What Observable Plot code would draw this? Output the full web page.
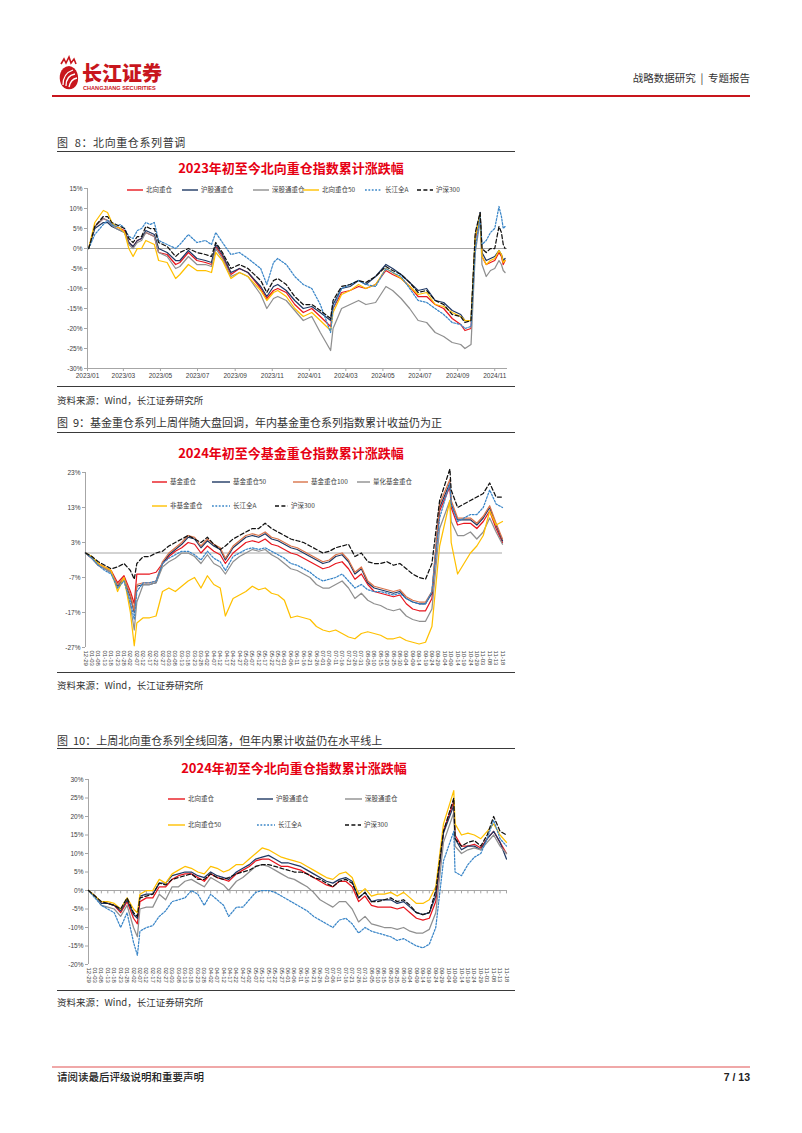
<!DOCTYPE html>
<html><head><meta charset="utf-8">
<script src="https://cdn.jsdelivr.net/npm/d3@7"></script>
<script src="https://cdn.jsdelivr.net/npm/@observablehq/plot@0.6"></script>
<style>
body{margin:0;background:#fff;}
#page{position:relative;width:802px;height:1133px;overflow:hidden;background:#fff;font-family:"Noto Sans CJK SC","Noto Sans",sans-serif;color:#333;}
.abs{position:absolute;white-space:pre;line-height:1.2;}
.hr{position:absolute;}
.chart{position:absolute;}
.chart svg{overflow:visible;}
</style></head><body><div id="page"></div>
<script>
// ---------------- DATA ----------------
// Chart 1: 2023年初至今北向重仓指数累计涨跌幅
const c1Dates = ["2023-01-03","2023-01-13","2023-01-27","2023-02-03","2023-02-10","2023-02-17","2023-02-24","2023-03-03","2023-03-10","2023-03-17","2023-03-24","2023-03-31","2023-04-07","2023-04-14","2023-04-21","2023-04-28","2023-05-12","2023-05-26","2023-06-02","2023-06-16","2023-06-30","2023-07-14","2023-07-24","2023-07-31","2023-08-11","2023-08-25","2023-09-08","2023-09-22","2023-10-13","2023-10-23","2023-11-03","2023-11-10","2023-11-24","2023-12-08","2023-12-22","2024-01-05","2024-01-19","2024-02-05","2024-02-09","2024-02-23","2024-03-08","2024-03-22","2024-04-03","2024-04-19","2024-05-06","2024-05-17","2024-05-31","2024-06-14","2024-06-28","2024-07-12","2024-07-26","2024-08-09","2024-08-23","2024-09-06","2024-09-13","2024-09-23","2024-09-30","2024-10-08","2024-10-11","2024-10-18","2024-10-25","2024-11-01","2024-11-08","2024-11-12","2024-11-15","2024-11-18"];
const c1North = [0,5.5,7.5,7,6,5.5,5,4.5,1.5,0.5,2,2.5,4,3.5,3,-1,-1.5,-4,-3.5,-1,-3,-3.5,-4,0.5,-2,-6.5,-5,-6,-10,-12.5,-10.5,-10,-11,-14,-16,-15,-17,-19.5,-15,-11,-10.5,-9.5,-10,-9,-5.5,-6.5,-7.5,-9.5,-12,-12,-14,-15,-17.5,-19,-20.5,-20,2,8.5,-2,-4,-3.5,-3,-1,-2,-4,-3];
const c1SH = [0,5,6.5,6.5,5.5,5,4.5,4,1.5,0.5,2,2.5,4.5,4,3.5,0,-1,-3,-3,-0.5,-2.5,-3,-3.5,1,-1.5,-6,-5,-6,-9.5,-12,-9.5,-9,-10.5,-13,-15,-14.5,-16,-18,-14,-10,-9.5,-8,-9,-7,-4,-5,-6.5,-8.5,-10.5,-10,-13,-13.5,-15.5,-16.5,-18,-18,3,9,-1,-3,-2.5,-2,-0.5,-1.5,-3,-2.5];
const c1SZ = [0,5.5,7.5,7,6,5,4.5,4,1,0,1.5,2,4,3.5,3,-1,-2,-5,-4.5,-2,-4,-4,-4.5,0,-2.5,-7,-6,-7,-11.5,-15,-12.5,-12,-13,-15.5,-18,-17,-21,-25.5,-20,-15,-14,-13,-14,-13.5,-9.5,-10.5,-12.5,-15,-18,-18.5,-21,-22,-23.5,-24,-25,-24,-1,7,-4,-7,-5.5,-5,-3,-4,-5.5,-6];
const c1N50 = [0,6.5,9.5,9,6.5,5.5,5,4,0,-2,0,0,2,1.5,1,-3,-3.5,-7.5,-6.5,-4,-5.5,-5.5,-6,-1,-3,-7.5,-6,-7,-10.5,-13,-11,-10.5,-12,-15,-17,-16,-18,-20.5,-16,-11.5,-10.5,-9,-10,-9,-5,-6,-7.5,-9.5,-11.5,-11,-14,-14.5,-16,-17,-18,-18,3,8.5,-2,-4,-3,-2.5,-0.5,-1.5,-3.5,-3];
const c1AllA = [0,3.5,6,7,6,5.5,6,5,3,2.5,4.5,5,6.5,6,6.5,2,1,0,1,3.5,1.5,2,1,4,1.5,-1.5,-1,-2.5,-5,-9,-3.5,-2.5,-4,-7,-9,-10,-14,-21,-15,-10,-9,-8,-9,-9.5,-5,-6,-7,-10,-13,-13.5,-15,-16.5,-18.5,-19,-20,-19.5,0,8,1,2,4,5,10.5,8,5,5.5];
const c1HS300 = [0,5.5,8,8,6.5,6,5.5,5,2.5,1.5,3,3,5.5,5,5,1.5,0.5,-2,-1,0,-1,-1.5,-2,1.5,-1,-5,-4,-5,-8,-11,-8,-7.5,-9,-12,-14,-14,-15.5,-17.5,-13,-9.5,-9,-8,-8.5,-7,-4.5,-5.5,-6.5,-8.5,-11,-10.5,-13,-14,-16.5,-17,-18.5,-18,4,9,0,-1,0,0,5.5,4,1,0];
const c1XTicks = ["2023/01","2023/03","2023/05","2023/07","2023/09","2023/11","2024/01","2024/03","2024/05","2024/07","2024/09","2024/11"];
const c1YTicks = [15,10,5,0,-5,-10,-15,-20,-25,-30];
const c1Names = ["北向重仓","沪股通重仓","深股通重仓","北向重仓50","长江全A","沪深300"];

// Chart 2: 2024年初至今基金重仓指数累计涨跌幅
const c2Dates = ["12-29","01-03","01-08","01-13","01-18","01-23","01-28","02-02","02-05","02-07","02-12","02-17","02-22","02-27","03-03","03-08","03-13","03-18","03-23","03-28","04-02","04-07","04-12","04-16","04-22","04-27","05-02","05-07","05-12","05-17","05-22","05-27","06-01","06-06","06-11","06-16","06-21","06-26","07-01","07-06","07-11","07-16","07-21","07-26","07-31","08-05","08-10","08-15","08-20","08-25","08-30","09-04","09-09","09-14","09-19","09-24","09-30","10-08","10-09","10-14","10-19","10-24","10-29","11-03","11-08","11-13","11-18"];
const c2Fund = [0,-1.5,-3,-4,-5,-8.5,-6.5,-11,-14.5,-6,-6,-6,-5.5,-3,-1,0.5,1.5,3,2.5,0,2,0.5,-0.5,-3,0,1.5,3,3.5,3,4,2.5,2,1,0,-0.5,-1.5,-2.5,-3.5,-4.5,-4,-3,-2.5,-4.5,-7.5,-6,-9,-11,-11.5,-12,-12.5,-12,-14.5,-16,-16.5,-16.5,-13,12,19,13,8,8.5,8.5,7,9,12,7,3];
const c2Fund50 = [0,-1.5,-3.5,-4.5,-5.5,-9.5,-7.5,-12.5,-17,-9.5,-9,-9,-8.5,-3,-0.5,1,2.5,4.5,4,1.5,3.5,2,1,-2,1.5,3,4.5,5,4.5,5.5,4,3.5,2.5,1.5,1,0,-1,-2,-3,-2.5,-1,-0.5,-2.5,-6,-4.5,-8.5,-10,-10.5,-11,-11.5,-11,-13,-14,-14.5,-14.5,-11.5,13,20,14,9.5,9.5,9.5,8,10,13,8,3.5];
const c2Fund100 = [0,-1.5,-3.5,-4.5,-5.5,-9,-7,-12,-16.5,-9,-8.5,-8.5,-8,-2.5,0,1.5,3,5,4.5,2,4,2.5,1.5,-1.5,2,3.5,5,5.5,5,6,4.5,4,3,2,1.5,0.5,-0.5,-1.5,-2.5,-2,-0.5,0,-2,-5.5,-4,-8,-9.5,-10,-10.5,-11,-10.5,-12.5,-13.5,-14,-14,-11,14,21,15,10,10,10,8.5,10.5,13.5,8.5,4];
const c2Quant = [0,-1.5,-3.5,-4.5,-5.5,-10,-7.5,-15,-22,-14,-9,-9,-8.5,-4,-2.5,-1.5,0,0,-1,-3,-0.5,-3,-4,-6,-2.5,-1,0,1,0.5,1,-0.5,-1.5,-3,-4.5,-5,-6,-7,-9,-10,-10,-9,-8,-10,-13,-11.5,-13.5,-14.5,-15,-16,-16.5,-16,-18,-19,-19.5,-19.5,-16,7,15,9,5,5,6,4,6,10,6,2.5];
const c2NonFund = [0,-1,-3,-4,-5,-11,-7,-17,-26.5,-20,-18.5,-18.5,-18,-11,-10,-11,-9.5,-8,-7,-10,-6.5,-9,-10,-18,-13,-12,-11,-9.5,-10.5,-10,-11.5,-12,-13.5,-18.5,-18,-18.5,-19,-21,-22,-22.5,-22,-23,-24,-24.5,-23,-22.5,-23,-23.5,-24.5,-24.5,-24,-25,-25.5,-26,-25.5,-21,2,15,3,-6,-3,0,2,5,12,8,9];
const c2AllA = [0,-1.5,-3.5,-5,-6,-10,-8,-14,-19,-11,-8.5,-8.5,-8,-3,-1.5,-0.5,0.5,0.5,-0.5,-2,0.5,-1.5,-2.5,-5,-1,0,1,1.5,1,1.5,0.5,-0.5,-1.5,-3,-3.5,-4.5,-5.5,-7,-8,-7.5,-7,-6,-8,-10,-9,-10.5,-11,-11,-11.5,-12,-11.5,-13,-14,-14.5,-14.5,-11,10,20,14,9,10,11,11,13,18,14,13];
const c2HS300 = [0,-1,-2.5,-3.5,-4.5,-4,-3,-5,-7.5,-3,-1,-1,0,0.5,2,3,4,5,4,3,4.5,2.5,1,2,4,5,6,7,7,8.5,7,6,5,4,3.5,3,2,1,0,0.5,1.5,2,2.5,-1,0,-2.5,-3,-3,-2.5,-3.5,-3,-4.5,-6,-7,-7.5,-3,15,24,18,13,14,15,16,17,20,16,16];
const c2YTicks = [23,13,3,-7,-17,-27];
const c2Names = ["基金重仓","基金重仓50","基金重仓100","量化基金重仓","非基金重仓","长江全A","沪深300"];

// Chart 3: 2024年初至今北向重仓指数累计涨跌幅
const c3Dates = c2Dates.slice();
const c3North = [0,-1.5,-3.5,-3.5,-4,-6,-3,-7.5,-9,-3,-2,-2,1,1,3,4,4.5,4.5,3.5,2.5,4.5,3.5,3,2.5,4.5,5.5,6.5,8,8.5,8.5,7.5,6.5,6.5,6,5.5,4.5,3.5,2.5,1.5,1,2.5,2.5,1,-3,-1.5,-4,-4.5,-4.5,-4.5,-5,-4.5,-6,-7.5,-8,-7.5,-3,16,24,15,12,12,12.5,11.5,14,16,13,10];
const c3SH = [0,-1.5,-3.5,-3.5,-4,-5.5,-2.5,-6.5,-7.5,-1.5,-1,-1,2,2,4,4.5,5,5,4,3.5,5,4,3.5,3,5,6,7,8.5,9,9.5,8.5,7.5,7.5,7,6.5,5.5,4.5,3.5,2.5,2,3,3.5,2.5,-2,-0.5,-3,-2.5,-2.5,-2.5,-3.5,-3,-4.5,-6,-6.5,-6,-1.5,15.5,23,14,11,12,12,11,14,16,13,8.5];
const c3SZ = [0,-1.5,-4,-4.5,-5,-7,-4,-10,-12.5,-5,-4.5,-4.5,-1,-2.5,1,1,2.5,3,2,1,3.5,2.5,1.5,0,2.5,3.5,5,6.5,7,6.5,5.5,4.5,3.5,3,2,1,-0.5,-2.5,-3.5,-4.5,-3,-3,-5,-8.5,-7,-9,-9.5,-10,-10,-10.5,-10,-11,-11.5,-11.5,-10.5,-6,13,21,12,10,11,11.5,11,13,15,12,10];
const c3N50 = [0,-1.5,-3,-3,-3.5,-5,-2,-5,-6,-1,0,0,3,2,4.5,5.5,6.5,6,5,4.5,6.5,6,5,5.5,7,7,8.5,10,11.5,11,10,9,8.5,8,7.5,6.5,5.5,4.5,3.5,3,4.5,5,3.5,-1,0.5,-1.5,-1,-1,-0.5,-1.5,-0.5,-2,-3.5,-3.5,-2.5,1,18,27,18,15,15.5,15,14,16,18,15,13];
const c3AllA = [0,-2,-4,-5,-6,-10,-6,-14,-17.5,-11,-10,-9.5,-7,-5.5,-3,-2.5,-2,0,-1,-4,-1,-2.5,-4,-7,-4.5,-4.5,-2.5,-0.5,0,0,-0.5,-1.5,-2.5,-3.5,-4.5,-5.5,-7,-8,-9,-10,-8,-7.5,-9,-11.5,-10,-11,-11.5,-12,-12.5,-13.5,-13,-14,-15,-15.5,-14.5,-10,8,16,5,4,7,9,10,14,19,14,12];
const c3HS300 = [0,-1.5,-3,-3.5,-4,-5,-2,-6,-7,-2,-1.5,-1,2,1.5,3,3.5,4,4.5,3,3,4.5,3.5,3,3.5,4.5,5,5.5,6.5,7,7,6.5,6,5.5,5,5,4.5,3.5,3,2,1,2.5,3,2,-2,-0.5,-3,-3,-2.5,-2,-3,-2.5,-4,-6,-6.5,-6,0,16,25,14,12,13,13.5,12,15,20,16,15];
const c3YTicks = [30,25,20,15,10,5,0,-5,-10,-15,-20];
const c3Names = ["北向重仓","沪股通重仓","深股通重仓","北向重仓50","长江全A","沪深300"];

// x tick labels shared by chart 2 and 3
const mdTicks = ["12-29","01-03","01-08","01-13","01-18","01-23","01-28","02-02","02-07","02-12","02-17","02-22","02-27","03-03","03-08","03-13","03-18","03-23","03-28","04-02","04-07","04-12","04-17","04-22","04-27","05-02","05-07","05-12","05-17","05-22","05-27","06-01","06-06","06-11","06-16","06-21","06-26","07-01","07-06","07-11","07-16","07-21","07-26","07-31","08-05","08-10","08-15","08-20","08-25","08-30","09-04","09-09","09-14","09-19","09-24","09-29","10-04","10-09","10-14","10-19","10-24","10-29","11-03","11-08","11-13","11-18"];

// ---------------- STYLES ----------------
const NUM = "'Liberation Sans','Noto Sans',Arial,sans-serif";
const CJK = "'Noto Sans CJK SC','Noto Sans',sans-serif";
const RED = "#E8161E", NAVY = "#1F3864", GRAY = "#8F8F8F", GOLD = "#FFC000", BLUE = "#3A86C8", BLACK = "#111111", SALMON = "#D9734A";
const sty = {
  "北向重仓": {stroke: RED}, "沪股通重仓": {stroke: NAVY}, "深股通重仓": {stroke: GRAY}, "北向重仓50": {stroke: GOLD},
  "长江全A": {stroke: BLUE, dash: "1.8,1.6"}, "沪深300": {stroke: BLACK, dash: "4,2.4"},
  "基金重仓": {stroke: RED}, "基金重仓50": {stroke: NAVY}, "基金重仓100": {stroke: SALMON}, "量化基金重仓": {stroke: GRAY}, "非基金重仓": {stroke: GOLD}
};

const page = document.getElementById("page");
function txt(s, x, yc, size, o = {}) {
  const el = document.createElement("div");
  el.className = "abs";
  el.textContent = s;
  el.style.fontSize = size + "px";
  el.style.top = (yc - size * 0.62) + "px";
  if (o.right) el.style.right = (802 - x) + "px"; else if (o.center) { el.style.left = x + "px"; el.style.transform = "translateX(-50%)"; } else el.style.left = x + "px";
  el.style.color = o.color || "#333";
  el.style.fontFamily = o.font || CJK;
  if (o.weight) el.style.fontWeight = o.weight;
  if (o.ls) el.style.letterSpacing = o.ls + "px";
  page.appendChild(el);
  return el;
}
function hr(x1, x2, y, h, color) {
  const el = document.createElement("div");
  el.className = "hr";
  Object.assign(el.style, {left: x1 + "px", width: (x2 - x1) + "px", top: y + "px", height: h + "px", background: color});
  page.appendChild(el);
}
function legend(items) {
  for (const [name, x, y, len] of items) {
    const s = sty[name];
    const svg = document.createElementNS("http://www.w3.org/2000/svg", "svg");
    svg.setAttribute("width", len); svg.setAttribute("height", 4);
    svg.style.position = "absolute"; svg.style.left = x + "px"; svg.style.top = (y - 2) + "px";
    const ln = document.createElementNS("http://www.w3.org/2000/svg", "line");
    ln.setAttribute("x1", 0); ln.setAttribute("x2", len); ln.setAttribute("y1", 2); ln.setAttribute("y2", 2);
    ln.setAttribute("stroke", s.stroke); ln.setAttribute("stroke-width", 1.4);
    if (s.dash) ln.setAttribute("stroke-dasharray", s.dash);
    svg.appendChild(ln); page.appendChild(svg);
    txt(name, x + len + 3, y, 6.5, {color: "#404040"});
  }
}

// ---------------- HEADER ----------------
(function header() {
  const svg = `<svg width="26" height="38" viewBox="0 0 26 38" style="position:absolute;left:56px;top:55px">
  <path d="M5 9 L8 4 L10 8 L13 2 L15 8 L18 4 L20 9" fill="none" stroke="#C8161D" stroke-width="1.6"/>
  <path d="M13 11 C4 12 2 22 5 29 C8 36 18 36 21 29 C24 22 21 12 13 11 Z" fill="#C8161D"/>
  <path d="M7 30 C7 22 11 17 17 15" fill="none" stroke="#fff" stroke-width="1.3"/>
  <path d="M10 31 C10 24 13 20 19 19" fill="none" stroke="#fff" stroke-width="1.3"/>
  <path d="M13 32 C14 27 16 24 21 23" fill="none" stroke="#fff" stroke-width="1.3"/></svg>`;
  page.insertAdjacentHTML("beforeend", svg);
  txt("长江证券", 82, 73, 20, {color: "#C8161D", weight: 900, font: "'Noto Sans CJK SC',serif"});
  txt("CHANGJIANG SECURITIES", 83, 88, 5.6, {color: "#C8161D", weight: 700, font: NUM});
  txt("战略数据研究  |  专题报告", 750, 79, 10.5, {right: true, color: "#333"});
  hr(52, 750, 95, 2, "#C8161D");
})();

// ---------------- FRAMES / TEXTS ----------------
txt("图  8：北向重仓系列普调", 57, 143, 11, {ls: 0.6});
hr(57, 515, 151, 1.2, "#3a3a3a");
txt("2023年初至今北向重仓指数累计涨跌幅", 291, 168, 13, {center: true, color: "#E60012", weight: 700});
hr(57, 515, 386, 1.2, "#3a3a3a");
txt("资料来源：Wind，长江证券研究所", 57, 401, 9.5);

txt("图  9：基金重仓系列上周伴随大盘回调，年内基金重仓系列指数累计收益仍为正", 57, 423, 11);
hr(57, 515, 432, 1.2, "#3a3a3a");
txt("2024年初至今基金重仓指数累计涨跌幅", 291, 453, 13, {center: true, color: "#E60012", weight: 700});
hr(57, 515, 672, 1.2, "#3a3a3a");
txt("资料来源：Wind，长江证券研究所", 57, 686, 9.5);

txt("图  10：上周北向重仓系列全线回落，但年内累计收益仍在水平线上", 57, 741, 11);
hr(57, 515, 748, 1.2, "#3a3a3a");
txt("2024年初至今北向重仓指数累计涨跌幅", 294, 768, 13, {center: true, color: "#E60012", weight: 700});
hr(57, 515, 990, 1.2, "#3a3a3a");
txt("资料来源：Wind，长江证券研究所", 57, 1003, 9.5);

hr(52, 750, 1066, 1.5, "#F0A8A8");
txt("请阅读最后评级说明和重要声明", 57, 1078, 10.5, {color: "#222", weight: 500});
txt("7 / 13", 750, 1078, 10.5, {right: true, color: "#222", weight: 700, font: NUM});

// ---------------- CHART HELPERS ----------------
const utc = s => { const [y, m, d] = s.split("-").map(Number); return new Date(Date.UTC(y, m - 1, d)); };
const md = s => { const [m, d] = s.split("-").map(Number); return new Date(Date.UTC(m === 12 ? 2023 : 2024, m - 1, d)); };
function lineMarks(dates, names, arrays) {
  return names.map((name, k) => {
    const s = sty[name];
    const data = dates.map((d, i) => ({date: d, v: arrays[k][i]}));
    return Plot.line(data, {x: "date", y: "v", stroke: s.stroke, strokeWidth: 1.25, strokeDasharray: s.dash, strokeLinejoin: "round", curve: "linear"});
  });
}
function mount(plot, left, top) {
  const div = document.createElement("div");
  div.className = "chart"; div.style.left = left + "px"; div.style.top = top + "px";
  div.appendChild(plot); page.appendChild(div);
}
const baseStyle = {fontFamily: NUM, fontSize: "6.5px", color: "#404040", background: "transparent", overflow: "visible"};
const AX = "#A6A6A6";

// ---------------- CHART 1 ----------------
{
  const d1 = c1Dates.map(utc);
  const x0 = utc("2023-01-01"), x1 = utc("2024-11-22");
  const tickDates = c1XTicks.map(s => { const [y, m] = s.split("/").map(Number); return new Date(Date.UTC(y, m - 1, 1)); });
  const lab = new Map(tickDates.map((d, i) => [+d, c1XTicks[i]]));
  const p = Plot.plot({
    width: 460, height: 210, marginTop: 8, marginBottom: 22, marginLeft: 32, marginRight: 8,
    style: baseStyle,
    x: {type: "utc", domain: [x0, x1], label: null},
    y: {domain: [-30, 15], label: null},
    marks: [
      Plot.ruleY([0], {stroke: AX, strokeWidth: 1}),
      Plot.ruleY([-30], {stroke: AX, strokeWidth: 1}),
      Plot.ruleX([x0], {stroke: AX, strokeWidth: 1}),
      Plot.axisY({ticks: c1YTicks, tickFormat: d => d + "%", tickSize: 3, tickPadding: 2, stroke: AX, fill: "#404040", label: null}),
      Plot.axisX({ticks: tickDates, tickFormat: d => lab.get(+d), tickSize: 3, tickPadding: 2, stroke: AX, fill: "#404040", label: null}),
      ...lineMarks(d1, c1Names, [c1North, c1SH, c1SZ, c1N50, c1AllA, c1HS300])
    ]
  });
  mount(p, 55, 180);
  legend([["北向重仓", 127, 190, 16], ["沪股通重仓", 182, 190, 16], ["深股通重仓", 253, 190, 16], ["北向重仓50", 303, 190, 16], ["长江全A", 365, 190, 17], ["沪深300", 417, 190, 16]]);
}

// ---------------- CHART 2 & 3 ----------------
function mdChart({height, mt, mb, ml, mr, ydom, yticks, dates, names, arrays, zeroTicks}) {
  const tickDates = mdTicks.map(md);
  const lab = new Map(tickDates.map((d, i) => [+d, mdTicks[i]]));
  const tickLen = (ydom[1] - ydom[0]) / 55;
  const p = Plot.plot({
    width: 460, height, marginTop: mt, marginBottom: mb, marginLeft: ml, marginRight: mr,
    style: baseStyle,
    x: {type: "utc", domain: [md("12-29"), md("11-18")], axis: null, label: null},
    y: {domain: ydom, label: null},
    marks: [
      Plot.ruleY([0], {stroke: AX, strokeWidth: 1}),
      zeroTicks ? Plot.ruleX(tickDates, {x: d => d, y1: 0, y2: -tickLen, stroke: AX}) : null,
      Plot.ruleX([md("12-29")], {stroke: AX, strokeWidth: 1}),
      Plot.axisY({ticks: yticks, tickFormat: d => d + "%", tickSize: 3, tickPadding: 2, stroke: AX, fill: "#404040", label: null}),
      Plot.text(tickDates, {x: d => d, text: d => lab.get(+d), frameAnchor: "bottom", rotate: 90, textAnchor: "start", lineAnchor: "middle", dy: 3, fontSize: 6, fill: "#404040"}),
      ...lineMarks(dates.map(md), names, arrays)
    ]
  });
  return p;
}
{
  const p = mdChart({height: 215, mt: 10, mb: 30, ml: 30, mr: 13, ydom: [-27, 23], yticks: c2YTicks, zeroTicks: false,
    dates: c2Dates, names: c2Names, arrays: [c2Fund, c2Fund50, c2Fund100, c2Quant, c2NonFund, c2AllA, c2HS300]});
  mount(p, 55, 462);
  legend([["基金重仓", 152, 482, 15], ["基金重仓50", 212, 482, 18], ["基金重仓100", 293, 482, 15], ["量化基金重仓", 357, 482, 13],
          ["非基金重仓", 152, 506, 15], ["长江全A", 212, 506, 18], ["沪深300", 275, 506, 13]]);
}
{
  const p = mdChart({height: 225, mt: 7, mb: 33, ml: 33, mr: 9, ydom: [-20, 30], yticks: c3YTicks, zeroTicks: true,
    dates: c3Dates, names: c3Names, arrays: [c3North, c3SH, c3SZ, c3N50, c3AllA, c3HS300]});
  mount(p, 55, 772);
  legend([["北向重仓", 168, 799, 17], ["沪股通重仓", 257, 799, 16], ["深股通重仓", 345, 799, 17],
          ["北向重仓50", 168, 825, 17], ["长江全A", 257, 825, 18], ["沪深300", 345, 825, 16]]);
}
</script></body></html>
